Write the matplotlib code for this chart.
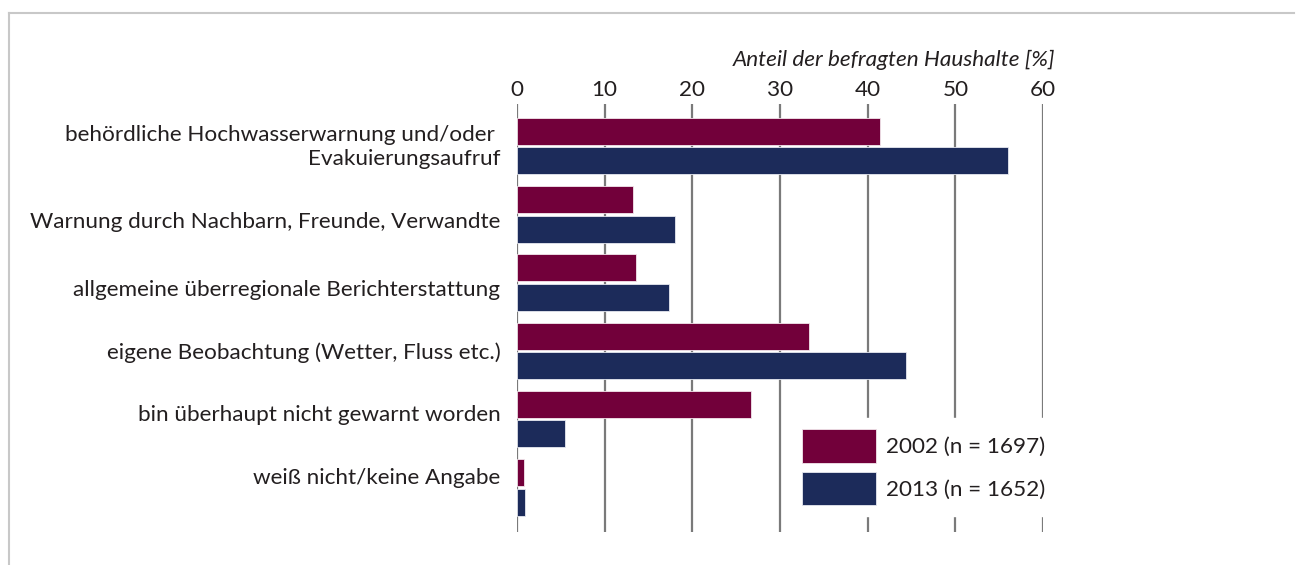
import numpy as np
import matplotlib
matplotlib.use("Agg")
import matplotlib.pyplot as plt
from matplotlib.lines import Line2D
from matplotlib.transforms import ScaledTranslation

# answer categories and shares of households (%)
kategorien = [
    "behördliche Hochwasserwarnung und/oder \nEvakuierungsaufruf",
    "Warnung durch Nachbarn, Freunde, Verwandte",
    "allgemeine überregionale Berichterstattung",
    "eigene Beobachtung (Wetter, Fluss etc.)",
    "bin überhaupt nicht gewarnt worden",
    "weiß nicht/keine Angabe",
]
werte_2002 = [41.4, 13.2, 13.6, 33.3, 26.7, 0.8]
werte_2013 = [56.0, 18.0, 17.3, 44.4, 5.5, 0.9]
legende = ["2002 (n = 1697)", "2013 (n = 1652)"]
xticks = [0, 10, 20, 30, 40, 50, 60]

rot = "#72003A"
blau = "#1C2B5A"
textfarbe = "#231F20"
fs = 16.2

plt.rcParams["font.family"] = ["Lato", "DejaVu Sans"]
plt.rcParams["font.size"] = fs

fig = plt.figure(figsize=(13, 5.65), dpi=100)
ax = fig.add_axes([517 / 1300, 33 / 565, 526 / 1300, 428 / 565])

y = np.arange(len(kategorien))
h = 0.395
d = 0.215
b1 = ax.barh(y - d, werte_2002, height=h, color=rot, edgecolor="#f2e6ec", linewidth=0.6, zorder=3)
b2 = ax.barh(y + d, werte_2013, height=h, color=blau, edgecolor="#e6e8ef", linewidth=0.6, zorder=3)

ax.set_xlim(0, 60)
ax.set_ylim(5.65, -0.615)

# grey vertical grid lines behind the bars
ax.set_xticks(xticks)
ax.grid(axis="x", color="#7a7a7a", linewidth=1.6, zorder=0)
ax.set_axisbelow(True)
for s in ax.spines.values():
    s.set_visible(False)

ax.xaxis.tick_top()
ax.tick_params(axis="x", length=0, pad=3, labelsize=fs, labelcolor=textfarbe)
ax.set_yticks(y)
ax.set_yticklabels(kategorien, linespacing=1.25)
ax.tick_params(axis="y", length=0, pad=12, labelsize=fs, labelcolor=textfarbe)

# labels sit on an evenly spaced column, slightly off the bar centres
shift_px = [3, -6, -5, 0, 6, 12]
for lab, s in zip(ax.get_yticklabels(), shift_px):
    lab.set_transform(lab.get_transform() + ScaledTranslation(0, s / 100, fig.dpi_scale_trans))

fig.text(1055 / 1300, 1 - 60 / 565, "Anteil der befragten Haushalte [%]",
         ha="right", va="center", style="italic", fontsize=fs, color=textfarbe)

leg = ax.legend([b1, b2], legende, loc="upper left",
                bbox_to_anchor=(791 / 1300, 1 - 418 / 565), bbox_transform=fig.transFigure,
                borderaxespad=0, frameon=True, fancybox=False, framealpha=1,
                edgecolor="white", facecolor="white", fontsize=fs,
                handlelength=3.29, handleheight=1.9, labelspacing=0.4,
                handletextpad=0.45, borderpad=0.5)
leg.set_zorder(5)
for t in leg.get_texts():
    t.set_color(textfarbe)

# light frame along the top and left edge
fig.add_artist(Line2D([9 / 1300, 1294 / 1300], [1 - 13 / 565, 1 - 13 / 565],
                      color="#c8c8c8", linewidth=1.5, transform=fig.transFigure))
fig.add_artist(Line2D([9 / 1300, 9 / 1300], [1 - 13 / 565, 0],
                      color="#c8c8c8", linewidth=1.5, transform=fig.transFigure))

fig.savefig("out.png", dpi=100, facecolor="white")
